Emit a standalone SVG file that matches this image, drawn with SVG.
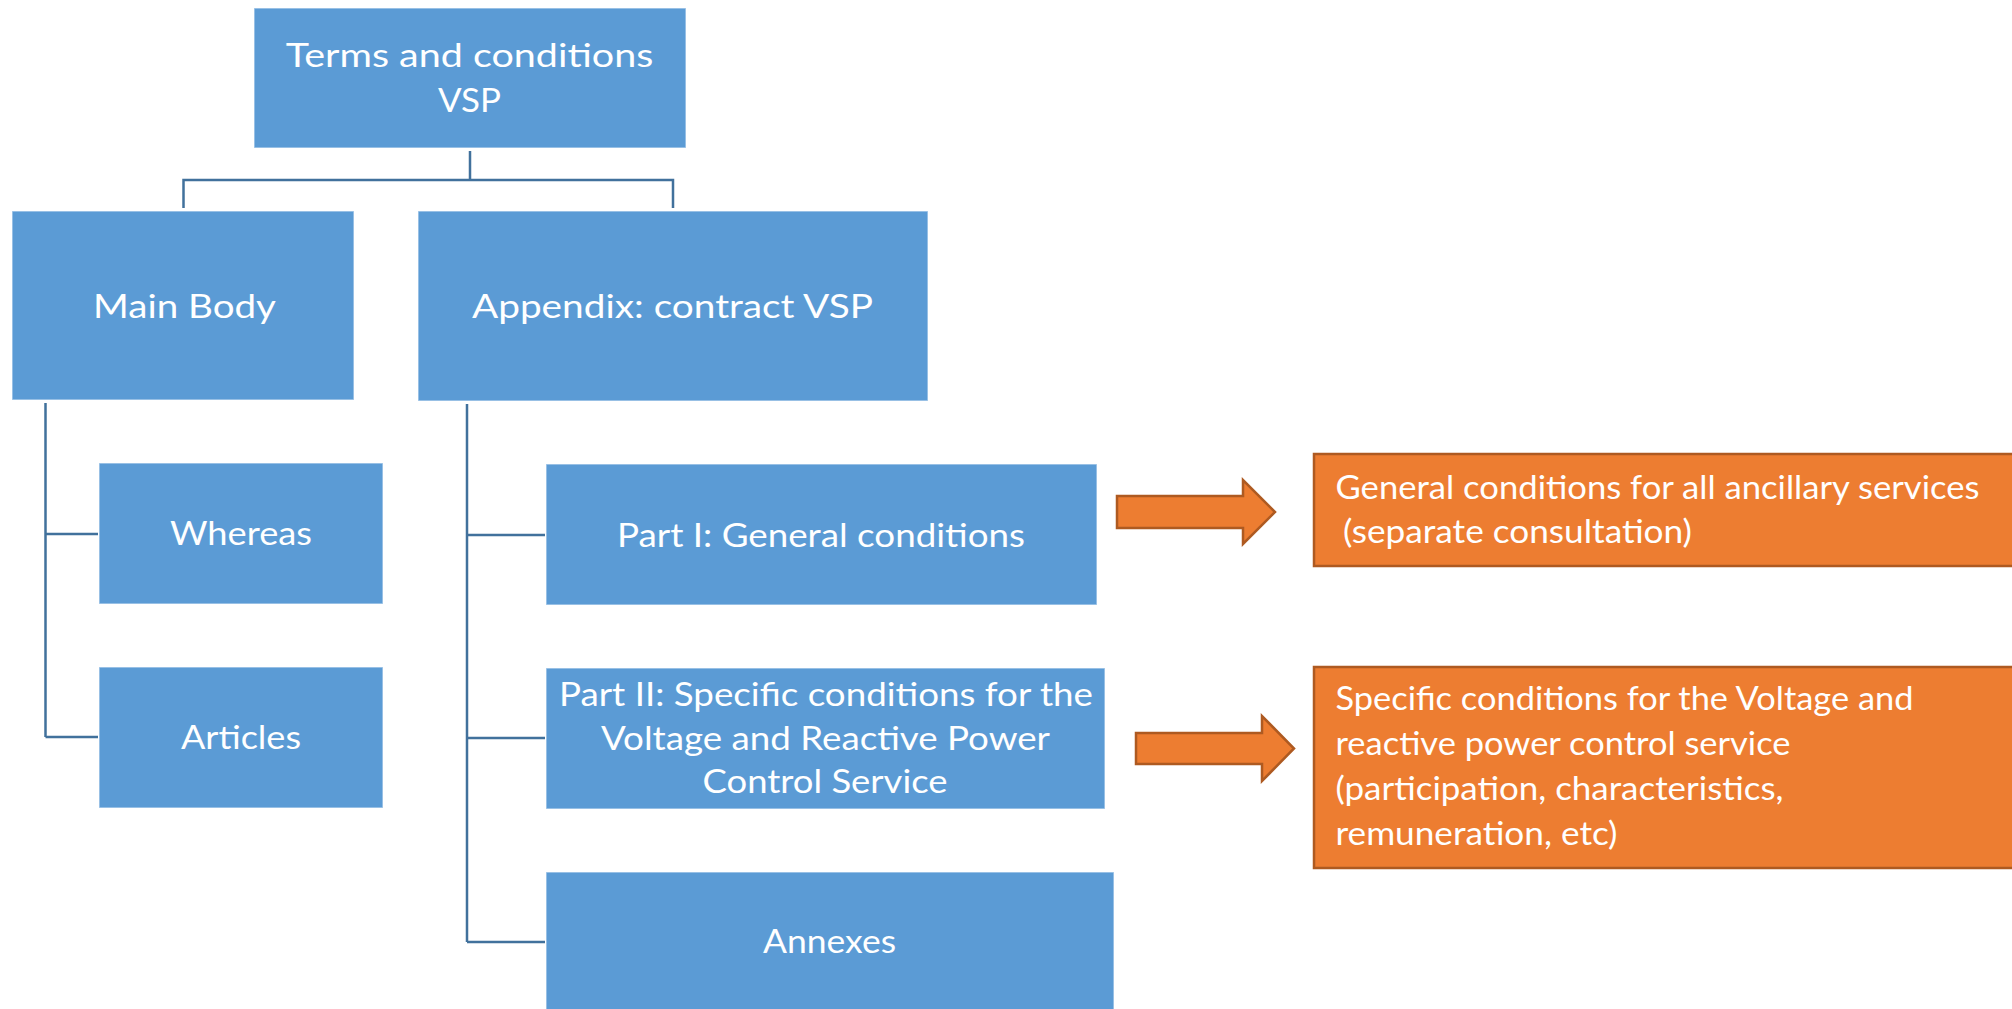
<svg xmlns="http://www.w3.org/2000/svg" width="2012" height="1009" viewBox="0 0 2012 1009">
<style>
.b{fill:#5B9BD5;stroke:#FFFFFF;stroke-opacity:0.5;stroke-width:1.5}
.o{fill:#ED7D31;stroke:#AE5A21;stroke-width:2.5}
.t{font-family:Lato,"Open Sans",sans-serif;font-size:32px;fill:#FFFFFF;text-anchor:middle}
.l{font-family:Lato,"Open Sans",sans-serif;font-size:32px;fill:#FFFFFF}
.c{fill:none;stroke:#41719C;stroke-width:2.5}
</style>
<rect width="2012" height="1009" fill="#FFFFFF"/>
<g id="connectors">
<path class="c" d="M470 151V180M183.5 208V180H673V208"/>
<path class="c" d="M45.5 403V737M45.5 534H98M45.5 737H98"/>
<path class="c" d="M467 404V942M467 535H545M467 738H545M467 942H545"/>
<polygon class="o" points="1117,496 1243,496 1243,480 1275,512 1243,544 1243,528 1117,528"/>
<polygon class="o" points="1136,733 1262,733 1262,716 1294,748.5 1262,781 1262,764 1136,764"/>
</g>
<g id="n-terms">
<rect class="b" x="254" y="8" width="432" height="140"/>
<text class="t" x="469.5" y="66.7" textLength="367.5" lengthAdjust="spacingAndGlyphs">Terms and conditions</text>
<text class="t" x="469.5" y="112.3" textLength="63" lengthAdjust="spacingAndGlyphs">VSP</text>
</g>
<g id="n-main">
<rect class="b" x="12" y="211" width="342" height="189"/>
<text class="t" x="184.5" y="318" textLength="183" lengthAdjust="spacingAndGlyphs">Main Body</text>
</g>
<g id="n-appendix">
<rect class="b" x="418" y="211" width="510" height="190"/>
<text class="t" x="672.5" y="318" textLength="401" lengthAdjust="spacingAndGlyphs">Appendix: contract VSP</text>
</g>
<g id="n-whereas">
<rect class="b" x="99" y="463" width="284" height="141"/>
<text class="t" x="241" y="545" textLength="142" lengthAdjust="spacingAndGlyphs">Whereas</text>
</g>
<g id="n-articles">
<rect class="b" x="99" y="667" width="284" height="141"/>
<text class="t" x="241" y="749" textLength="120" lengthAdjust="spacingAndGlyphs">Articles</text>
</g>
<g id="n-part1">
<rect class="b" x="546" y="464" width="551" height="141"/>
<text class="t" x="821" y="546.7" textLength="408" lengthAdjust="spacingAndGlyphs">Part I: General conditions</text>
</g>
<g id="n-part2">
<rect class="b" x="546" y="668" width="559" height="141"/>
<text class="t" x="826" y="706" textLength="534" lengthAdjust="spacingAndGlyphs">Part II: Specific conditions for the</text>
<text class="t" x="825.5" y="750" textLength="449" lengthAdjust="spacingAndGlyphs">Voltage and Reactive Power</text>
<text class="t" x="825" y="793" textLength="245" lengthAdjust="spacingAndGlyphs">Control Service</text>
</g>
<g id="n-annexes">
<rect class="b" x="546" y="872" width="568" height="150"/>
<text class="t" x="829.5" y="953" textLength="133" lengthAdjust="spacingAndGlyphs">Annexes</text>
</g>
<g id="n-general">
<rect class="o" x="1314" y="454" width="710" height="112"/>
<text class="l" x="1335.5" y="499" textLength="644" lengthAdjust="spacingAndGlyphs">General conditions for all ancillary services</text>
<text class="l" x="1343" y="543" textLength="349" lengthAdjust="spacingAndGlyphs">(separate consultation)</text>
</g>
<g id="n-specific">
<rect class="o" x="1314" y="667" width="710" height="201"/>
<text class="l" x="1335.5" y="710" textLength="578" lengthAdjust="spacingAndGlyphs">Specific conditions for the Voltage and</text>
<text class="l" x="1335.5" y="755" textLength="455" lengthAdjust="spacingAndGlyphs">reactive power control service</text>
<text class="l" x="1335.5" y="800" textLength="448" lengthAdjust="spacingAndGlyphs">(participation, characteristics,</text>
<text class="l" x="1335.5" y="845" textLength="282" lengthAdjust="spacingAndGlyphs">remuneration, etc)</text>
</g>
</svg>
